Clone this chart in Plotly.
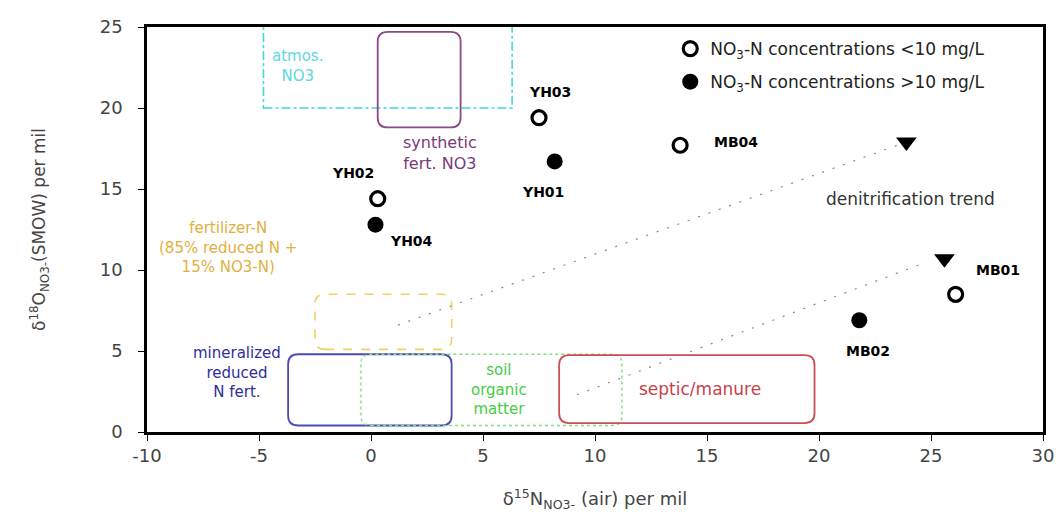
import plotly.graph_objects as go

# ---- data ----
low_names = ["YH03", "MB04", "YH02", "MB01"]
low_x = [7.5, 13.8, 0.3, 26.1]
low_y = [19.4, 17.7, 14.4, 8.5]

high_names = ["YH01", "YH04", "MB02"]
high_x = [8.2, 0.2, 21.8]
high_y = [16.7, 12.8, 6.9]

tri_x = [23.9, 25.6]
tri_y = [17.9, 10.7]

trend1_x = [1.2, 23.5]
trend1_y = [6.6, 17.7]
trend2_x = [9.2, 24.8]
trend2_y = [2.3, 10.5]

# source boxes: name, x0, x1, y0, y1
box_names = ["atmos", "synthetic", "fertilizer", "mineralized", "soil", "septic"]
box_x0 = [-4.8, 0.3, -2.5, -3.7, -0.45, 8.4]
box_x1 = [6.3, 4.0, 3.6, 3.6, 11.2, 19.8]
box_y0 = [20.0, 18.8, 5.1, 0.4, 0.4, 0.55]
box_y1 = [25.3, 24.7, 8.5, 4.8, 4.8, 4.75]

x_ticks = [-10, -5, 0, 5, 10, 15, 20, 25, 30]
x_tick_text = ["-10", "-5", "0", "5", "10", "15", "20", "25", "30"]
y_ticks = [0, 5, 10, 15, 20, 25]

FONT = "DejaVu Sans, Arial"

fig = go.Figure()

# trend lines
for tx, ty in [(trend1_x, trend1_y), (trend2_x, trend2_y)]:
    fig.add_trace(go.Scatter(x=tx, y=ty, mode="lines", showlegend=False,
                             line=dict(color="#888888", width=1.2, dash="2px,9px"),
                             hoverinfo="skip"))

fig.add_trace(go.Scatter(x=low_x, y=low_y, mode="markers", legendgroup="a",
                         name="NO<sub>3</sub>-N concentrations &lt;10 mg/L",
                         marker=dict(symbol="circle-open", size=14, color="black",
                                     line=dict(width=3.2, color="black"))))
fig.add_trace(go.Scatter(x=high_x, y=high_y, mode="markers", legendgroup="b",
                         name="NO<sub>3</sub>-N concentrations &gt;10 mg/L",
                         marker=dict(symbol="circle", size=16, color="black")))
fig.add_trace(go.Scatter(x=tri_x, y=tri_y, mode="markers", showlegend=False,
                         marker=dict(symbol="triangle-down", size=18, color="black")))


def rrect(x0, x1, y0, y1, rx=0.45, ry=0.6):
    return (f"M {x0+rx},{y0} L {x1-rx},{y0} Q {x1},{y0} {x1},{y0+ry} "
            f"L {x1},{y1-ry} Q {x1},{y1} {x1-rx},{y1} L {x0+rx},{y1} "
            f"Q {x0},{y1} {x0},{y1-ry} L {x0},{y0+ry} Q {x0},{y0} {x0+rx},{y0} Z")


styles = {
    "atmos": dict(color="#40d8dc", width=1.6, dash="dashdot", rounded=False),
    "synthetic": dict(color="#8a4a86", width=1.8, dash="solid", rounded=True),
    "fertilizer": dict(color="#f2d060", width=1.6, dash="dash", rounded=True),
    "mineralized": dict(color="#4a4ab8", width=1.8, dash="solid", rounded=True),
    "soil": dict(color="#80e080", width=1.4, dash="dot", rounded=True),
    "septic": dict(color="#cc4d55", width=1.8, dash="solid", rounded=True),
}
for n, x0, x1, y0, y1 in zip(box_names, box_x0, box_x1, box_y0, box_y1):
    s = styles[n]
    line = dict(color=s["color"], width=s["width"], dash=s["dash"])
    if s["rounded"]:
        fig.add_shape(type="path", path=rrect(x0, x1, y0, y1), xref="x", yref="y",
                      line=line, layer="below")
    else:
        fig.add_shape(type="rect", x0=x0, x1=x1, y0=y0, y1=y1, xref="x", yref="y",
                      line=line, layer="below")

# source labels
src_text = ["atmos.<br>NO3", "synthetic<br>fert. NO3",
            "fertilizer-N<br>(85% reduced N +<br>15% NO3-N)",
            "mineralized<br>reduced<br>N fert.", "soil<br>organic<br>matter",
            "septic/manure", "denitrification trend"]
src_x = [-3.3, 3.1, -6.4, -6.0, 5.7, 14.7, 24.1]
src_y = [22.6, 17.2, 11.4, 3.7, 2.6, 2.65, 14.4]
src_col = ["#5cd8dc", "#7a3a7a", "#dfb040", "#2e2e9a", "#44cc44", "#c8404a", "#333333"]
src_size = [15, 16, 15, 15, 15, 17, 17]
for t, x, y, c, sz in zip(src_text, src_x, src_y, src_col, src_size):
    fig.add_annotation(x=x, y=y, text=t, showarrow=False, xref="x", yref="y",
                       font=dict(family=FONT, size=sz, color=c),
                       align="center")

# point labels
lab_names = ["YH03", "YH01", "MB04", "YH02", "YH04", "MB01", "MB02"]
lab_x = [8.0, 7.7, 16.3, -0.8, 1.8, 28.0, 22.2]
lab_y = [21.0, 14.8, 17.9, 16.0, 11.8, 10.0, 5.0]
for t, x, y in zip(lab_names, lab_x, lab_y):
    fig.add_annotation(x=x, y=y, text=f"<b>{t}</b>", showarrow=False, xref="x", yref="y",
                       font=dict(family=FONT, size=14, color="black"))

fig.update_layout(
    width=1047, height=504,
    margin=dict(l=139, r=12, t=19, b=80),
    plot_bgcolor="white", paper_bgcolor="white",
    font=dict(family=FONT, color="#333333"),
    legend=dict(x=0.584, y=0.99, xanchor="left", yanchor="top",
                bgcolor="rgba(0,0,0,0)", font=dict(size=17, color="#222222"),
                itemwidth=30, traceorder="grouped", tracegroupgap=8),
    xaxis=dict(range=[-10, 30], tickvals=x_ticks, ticktext=x_tick_text,
               ticks="outside", ticklen=6, automargin=False,
               ticklabeloverflow="allow",
               tickcolor="black", showline=True, linecolor="black", linewidth=2.5,
               mirror=True, showgrid=False, zeroline=False,
               tickfont=dict(size=18, color="#444444"),
               title=dict(text="δ<sup>15</sup>N<sub>NO3-</sub> (air) per mil",
                          font=dict(size=18, color="#444444"), standoff=42)),
    yaxis=dict(range=[0, 25], tickvals=y_ticks, ticks="outside", ticklen=6,
               automargin=False,
               tickcolor="black", showline=True, linecolor="black", linewidth=2.5,
               mirror=True, showgrid=False, zeroline=False,
               ticklabelstandoff=12,
               tickfont=dict(size=18, color="#444444"),
               title=dict(text="δ<sup>18</sup>O<sub>NO3-</sub>(SMOW) per mil",
                          font=dict(size=17, color="#444444"), standoff=50)),
)

fig.write_html("out.html")
